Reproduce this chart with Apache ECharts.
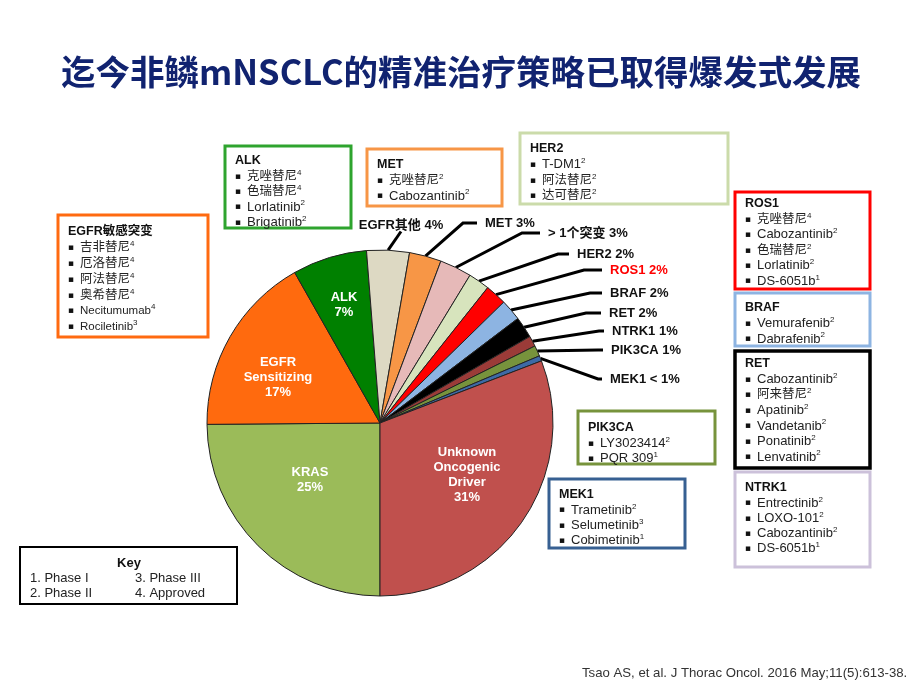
<!DOCTYPE html>
<html><head><meta charset="utf-8">
<script src="https://cdn.jsdelivr.net/npm/echarts/dist/echarts.min.js"></script>
<style>html,body{margin:0;padding:0;background:#fff}#c{width:920px;height:690px}</style>
</head><body><div id="c"></div>
<script>
// ---- Data ----
const categories = ['KRAS','EGFR Sensitizing','ALK','EGFR其他','MET','> 1个突变','HER2','ROS1','BRAF','RET','NTRK1','PIK3CA','MEK1','Unknown Oncogenic Driver'];
const labelNames = ['KRAS','EGFR\nSensitizing','ALK','EGFR其他','MET','> 1个突变','HER2','ROS1','BRAF','RET','NTRK1','PIK3CA','MEK1','Unknown\nOncogenic\nDriver'];
const values = [25, 17, 7, 4, 3, 3, 2, 2, 2, 2, 1, 1, 0.5, 31];
const sliceColors = ['#9BBB59','#FF6A0E','#008000','#DDD9C3','#F79646','#E6B9B8','#D7E4BD','#FF0000','#8DB4E2','#000000','#9B3B38','#77933C','#3D6AA6','#C0504D'];
const insideIdx = [0, 1, 2, 13];

const alkDrugs = [['克唑替尼','4'],['色瑞替尼','4'],['Lorlatinib','2'],['Brigatinib','2']];
const metDrugs = [['克唑替尼','2'],['Cabozantinib','2']];
const her2Drugs = [['T-DM1','2'],['阿法替尼','2'],['达可替尼','2']];
const egfrDrugs = [['吉非替尼','4'],['厄洛替尼','4'],['阿法替尼','4'],['奥希替尼','4'],['Necitumumab','4'],['Rociletinib','3']];
const ros1Drugs = [['克唑替尼','4'],['Cabozantinib','2'],['色瑞替尼','2'],['Lorlatinib','2'],['DS-6051b','1']];
const brafDrugs = [['Vemurafenib','2'],['Dabrafenib','2']];
const retDrugs = [['Cabozantinib','2'],['阿来替尼','2'],['Apatinib','2'],['Vandetanib','2'],['Ponatinib','2'],['Lenvatinib','2']];
const ntrk1Drugs = [['Entrectinib','2'],['LOXO-101','2'],['Cabozantinib','2'],['DS-6051b','1']];
const pik3caDrugs = [['LY3023414','2'],['PQR 309','1']];
const mek1Drugs = [['Trametinib','2'],['Selumetinib','3'],['Cobimetinib','1']];
const keyLabels = ['1. Phase I','2. Phase II','3. Phase III','4. Approved'];

const titleText = '迄今非鳞mNSCLC的精准治疗策略已取得爆发式发展';
const citation = 'Tsao AS, et al. J Thorac Oncol. 2016 May;11(5):613-38.';

// ---- Layout / style ----
const F = "'Liberation Sans', Arial, 'Noto Sans CJK SC', sans-serif";
const labelPos = {
  0: {x: 310, y: 480, align: 'center'},
  1: {x: 278, y: 377, align: 'center'},
  2: {x: 344, y: 305, align: 'center'},
  13: {x: 467, y: 475, align: 'center'},
  3: {x: 401, y: 225, align: 'center', len2: 0},
  4: {x: 477, y: 223, align: 'left', len2: 14},
  5: {x: 540, y: 233, align: 'left', len2: 18},
  6: {x: 569, y: 254, align: 'left', len2: 11},
  7: {x: 602, y: 270, align: 'left', len2: 18},
  8: {x: 602, y: 293, align: 'left', len2: 12},
  9: {x: 601, y: 313, align: 'left', len2: 15},
  10: {x: 604, y: 331, align: 'left', len2: 5},
  11: {x: 603, y: 350, align: 'left', len2: 5},
  12: {x: 602, y: 379, align: 'left', len2: 4}
};

function pctText(v) { return v < 1 ? '< 1%' : v + '%'; }

const pieData = categories.map((c, i) => {
  const inside = insideIdx.indexOf(i) >= 0;
  const d = {name: c, value: values[i], itemStyle: {color: sliceColors[i]}};
  if (inside) {
    d.label = {position: 'inside', color: '#fff', lineHeight: 15};
    d.labelLine = {show: false};
  } else {
    d.labelLine = {length2: labelPos[i].len2};
  }
  return d;
});

const isCJK = s => /[\u3400-\u9fff]/.test(s);
const richStyles = (lh, latin) => ({
  t: {fontFamily: F, fontSize: 12.5, fontWeight: 'bold', fill: '#111', lineHeight: lh, verticalAlign: 'middle'},
  b: {fontFamily: "'DejaVu Sans', sans-serif", fontSize: 9, fill: '#111', width: 12, lineHeight: lh, verticalAlign: 'middle'},
  n: {fontFamily: F, fontSize: latin, fill: '#222', lineHeight: lh, verticalAlign: 'middle'},
  c: {fontFamily: F, fontSize: 12.5, fill: '#222', lineHeight: lh, verticalAlign: 'middle'},
  s: {fontFamily: F, fontSize: 8, fill: '#222', lineHeight: 10, verticalAlign: 'top'}
});
function richText(title, items) {
  let s = '{t|' + title + '}';
  items.forEach(it => { s += '\n{b|▪}{' + (isCJK(it[0]) ? 'c' : 'n') + '|' + it[0] + '}{s|' + it[1] + '}'; });
  return s;
}
const boxDefs = [
  {title: 'ALK', items: alkDrugs, x: 225, y: 146, w: 126, h: 82, color: '#2EA42E', ty: 161, lh: 15.3, latin: 13.2},
  {title: 'MET', items: metDrugs, x: 367, y: 149, w: 135, h: 57, color: '#F79646', ty: 165, lh: 15.5, latin: 13},
  {title: 'HER2', items: her2Drugs, x: 520, y: 133, w: 208, h: 71, color: '#CBDBAA', ty: 149, lh: 15.6, latin: 13},
  {title: 'EGFR敏感突变', items: egfrDrugs, x: 58, y: 215, w: 150, h: 122, color: '#FF6A10', ty: 232, lh: 15.8, latin: 11.5},
  {title: 'ROS1', items: ros1Drugs, x: 735, y: 192, w: 135, h: 97, color: '#FF0000', ty: 204, lh: 15.4, latin: 13},
  {title: 'BRAF', items: brafDrugs, x: 735, y: 293, w: 135, h: 53, color: '#8DB4E2', ty: 308, lh: 15.5, latin: 13},
  {title: 'RET', items: retDrugs, x: 735, y: 351, w: 135, h: 117, color: '#000000', ty: 364, lh: 15.5, latin: 13},
  {title: 'NTRK1', items: ntrk1Drugs, x: 735, y: 472, w: 135, h: 95, color: '#CCC1DA', ty: 488, lh: 15.1, latin: 13},
  {title: 'PIK3CA', items: pik3caDrugs, x: 578, y: 411, w: 137, h: 53, color: '#77933C', ty: 428, lh: 15.2, latin: 13},
  {title: 'MEK1', items: mek1Drugs, x: 549, y: 479, w: 136, h: 69, color: '#376092', ty: 495, lh: 15.1, latin: 13}
];

const graphics = [];
boxDefs.forEach(b => {
  graphics.push({type: 'rect', z: 10, shape: {x: b.x, y: b.y, width: b.w, height: b.h},
    style: {fill: '#fff', stroke: b.color, lineWidth: b.color === '#000000' ? 3.5 : 3}});
  graphics.push({type: 'text', z: 11, x: b.x + 10, y: b.ty - b.lh / 2,
    style: {text: richText(b.title, b.items), rich: richStyles(b.lh, b.latin), align: 'left', verticalAlign: 'top', fontFamily: F, fontSize: 12.5}});
});
// Key box
graphics.push({type: 'rect', z: 10, shape: {x: 20, y: 547, width: 217, height: 57}, style: {fill: '#fff', stroke: '#000', lineWidth: 2}});
graphics.push({type: 'text', z: 11, x: 129, y: 563, style: {text: 'Key', fontFamily: F, fontSize: 13, fontWeight: 'bold', fill: '#111', align: 'center', verticalAlign: 'middle'}});
[[30, 578], [30, 593], [135, 578], [135, 593]].forEach((p, i) => {
  graphics.push({type: 'text', z: 11, x: p[0], y: p[1], style: {text: keyLabels[i], fontFamily: F, fontSize: 13, fill: '#222', align: 'left', verticalAlign: 'middle'}});
});
// Citation
graphics.push({type: 'text', z: 11, x: 582, y: 673, style: {text: citation, fontFamily: F, fontSize: 13.2, fill: '#333', align: 'left', verticalAlign: 'middle'}});

const chart = echarts.init(document.getElementById('c'), null, {renderer: 'canvas'});
chart.setOption({
  backgroundColor: '#fff',
  animation: false,
  title: {text: titleText, left: 56, top: 50,
    textStyle: {fontSize: 34.5, fontWeight: 'bold', color: '#112370', fontFamily: "'Noto Sans CJK SC', sans-serif"}},
  graphic: graphics,
  series: [{
    type: 'pie',
    center: [380, 423],
    radius: 173,
    startAngle: 270,
    clockwise: true,
    avoidLabelOverlap: false,
    silent: true,
    itemStyle: {borderColor: '#222', borderWidth: 1},
    label: {
      show: true, position: 'outside', fontFamily: F, fontSize: 13, fontWeight: 'bold', color: '#111',
      overflow: 'none',
      rich: {
        g: {width: 8, fontSize: 13},
        m: {fontFamily: F, fontSize: 13, fontWeight: 'bold', color: '#111'},
        r: {fontFamily: F, fontSize: 13, fontWeight: 'bold', color: '#FF0000'}
      },
      formatter: p => {
        const i = p.dataIndex;
        if (insideIdx.indexOf(i) >= 0) return labelNames[i] + '\n' + pctText(values[i]);
        const txt = labelNames[i] + ' ' + pctText(values[i]);
        const tok = categories[i] === 'ROS1' ? 'r' : 'm';
        return labelPos[i].align === 'left' ? '{g| }{' + tok + '|' + txt + '}' : '{' + tok + '|' + txt + '}';
      }
    },
    labelLine: {show: true, length: 10, length2: 15, lineStyle: {color: '#000', width: 3}},
    labelLayout: params => {
      const lp = labelPos[params.dataIndex];
      return {x: lp.x, y: lp.y, align: lp.align, verticalAlign: 'middle'};
    },
    data: pieData
  }]
});
</script></body></html>
